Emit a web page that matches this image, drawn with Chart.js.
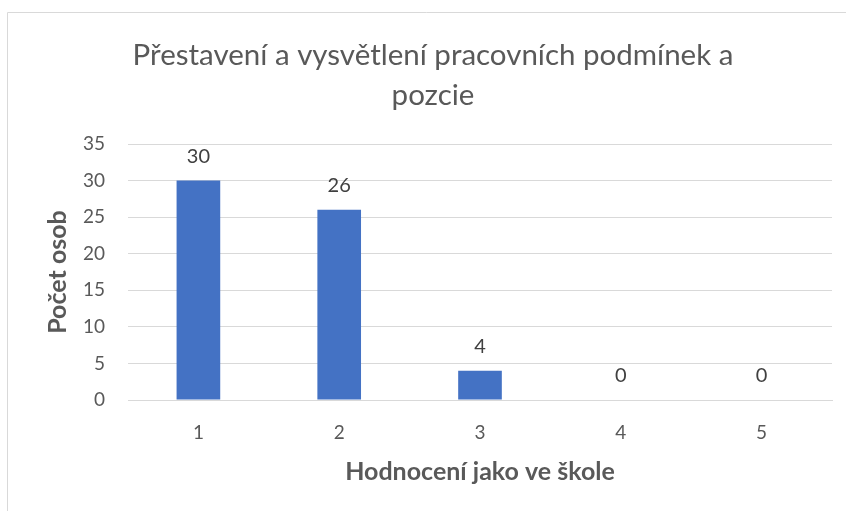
<!DOCTYPE html>
<html>
<head>
<meta charset="utf-8">
<script src="https://cdn.jsdelivr.net/npm/chart.js@4"></script>
<style>
  body { margin: 0; background: #fff; }
  #wrap { width: 846px; height: 511px; }
</style>
</head>
<body>
<div id="wrap"><canvas id="gradeChart"></canvas></div>
<script>
// data
const grades = ['1', '2', '3', '4', '5']
const persons = [30, 26, 4, 0, 0]
const yTicks = [0, 5, 10, 15, 20, 25, 30, 35]
const titleLines = ['Přestavení a vysvětlení pracovních podmínek a', 'pozcie']

const textColor = '#595959'
const fontName = 'Lato'

// value labels above the bars
const valueLabels = {
  id: 'valueLabels',
  afterDatasetsDraw(chart) {
    const ctx = chart.ctx
    const meta = chart.getDatasetMeta(0)
    ctx.save()
    ctx.font = '20px ' + fontName
    ctx.fillStyle = '#404040'
    ctx.textAlign = 'center'
    ctx.textBaseline = 'middle'
    meta.data.forEach((bar, i) => {
      ctx.fillText(persons[i], bar.x, bar.y - 24)
    })
    ctx.restore()
  }
}

// frame of the chart box (left and top edge visible) and the title,
// which sits centred on the whole box, not on the plot
const frame = {
  id: 'frame',
  beforeDraw(chart) {
    const ctx = chart.ctx
    ctx.save()
    ctx.strokeStyle = '#d9d9d9'
    ctx.lineWidth = 1
    ctx.beginPath()
    ctx.moveTo(7.5, 511)
    ctx.lineTo(7.5, 12.5)
    ctx.lineTo(846, 12.5)
    ctx.stroke()
    ctx.font = '29.5px ' + fontName
    ctx.fillStyle = textColor
    ctx.textAlign = 'center'
    ctx.textBaseline = 'middle'
    titleLines.forEach((line, i) => {
      ctx.fillText(line, 433, 55 + i * 40)
    })
    ctx.restore()
  }
}

const ctx = document.getElementById('gradeChart').getContext('2d')
const gradeChart = new Chart(ctx, {
  type: 'bar',
  data: {
    labels: grades,
    datasets: [{
      label: 'Počet osob',
      data: persons,
      backgroundColor: '#4472C4',
      categoryPercentage: 1,
      barPercentage: 0.31
    }]
  },
  options: {
    responsive: true,
    maintainAspectRatio: false,
    animation: false,
    layout: { padding: { left: 0, right: 14, top: 144, bottom: 0 } },
    plugins: {
      legend: { display: false },
      tooltip: { enabled: false },
      title: { display: false }
    },
    scales: {
      x: {
        grid: { display: false, drawTicks: false },
        border: { color: '#d9d9d9' },
        ticks: { color: textColor, font: { family: fontName, size: 19 }, padding: 21 },
        title: {
          display: true,
          text: 'Hodnocení jako ve škole',
          color: textColor,
          font: { family: fontName, size: 25, weight: 'bold', lineHeight: 1.2 },
          padding: { top: 0, bottom: 24 }
        },
        afterFit(scale) { scale.height = 111 }
      },
      y: {
        min: 0,
        max: 35,
        afterBuildTicks(scale) { scale.ticks = yTicks.map(v => ({ value: v })) },
        grid: { color: '#d9d9d9', drawTicks: false },
        border: { display: false },
        ticks: { color: textColor, font: { family: fontName, size: 19 }, padding: 23 },
        title: {
          display: true,
          text: 'Počet osob',
          color: textColor,
          font: { family: fontName, size: 25, weight: 'bold', lineHeight: 1.2 },
          padding: { top: 43, bottom: 0 }
        },
        afterFit(scale) { scale.width = 128 }
      }
    }
  },
  plugins: [valueLabels, frame]
})
</script>
</body>
</html>
